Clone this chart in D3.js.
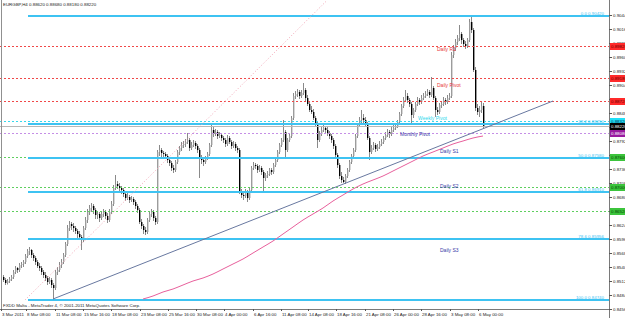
<!DOCTYPE html>
<html>
<head>
<meta charset="utf-8">
<script src="https://cdn.jsdelivr.net/npm/d3@7"></script>
<style>
  body { margin: 0; background: #fff; }
  svg { display: block; font-family: "Liberation Sans", Arial, sans-serif; }
</style>
</head>
<body>
<svg width="625" height="318"></svg>
<script>
const symbol = "EURGBP,H4"
const copyright = "FXDD Malta - MetaTrader 4, \u00a9 2001-2011 MetaQuotes Software Corp."

// H4 bars as [open, high, low, close], in points (0.0001)
const bars = [
  [8520,8524,8510,8514],[8514,8518,8504,8508],[8508,8516,8505,8512],[8512,8520,8508,8516],[8516,8524,8512,8520],
  [8520,8534,8516,8530],[8530,8542,8526,8538],[8538,8540,8528,8534],[8534,8548,8530,8544],[8544,8550,8538,8546],
  [8546,8554,8540,8550],[8550,8566,8546,8562],[8562,8576,8558,8572],[8572,8580,8564,8574],[8574,8576,8558,8564],
  [8564,8568,8552,8558],[8558,8562,8544,8550],[8550,8554,8538,8542],[8542,8548,8532,8538],[8538,8542,8524,8530],
  [8530,8534,8518,8524],[8524,8530,8512,8518],[8518,8522,8504,8510],[8510,8520,8506,8514],[8514,8518,8498,8504],
  [8504,8508,8474,8498],[8498,8534,8494,8530],[8530,8540,8524,8534],[8534,8550,8530,8544],[8544,8556,8538,8550],
  [8550,8568,8546,8564],[8564,8590,8560,8586],[8586,8624,8582,8618],[8618,8632,8612,8626],[8626,8630,8614,8622],
  [8622,8628,8610,8618],[8618,8622,8606,8612],[8612,8616,8598,8606],[8606,8612,8594,8600],[8600,8604,8574,8594],
  [8594,8622,8590,8618],[8618,8640,8614,8634],[8634,8656,8628,8650],[8650,8664,8644,8658],[8658,8668,8650,8662],
  [8662,8666,8646,8654],[8654,8658,8636,8644],[8644,8652,8636,8646],[8646,8650,8630,8638],[8638,8652,8634,8646],
  [8646,8656,8640,8650],[8650,8654,8636,8642],[8642,8648,8628,8634],[8634,8656,8630,8650],[8650,8672,8646,8666],
  [8666,8704,8662,8698],[8698,8724,8694,8706],[8706,8712,8696,8702],[8702,8708,8692,8698],[8698,8702,8686,8694],
  [8694,8698,8680,8686],[8686,8690,8672,8678],[8678,8688,8674,8680],[8680,8684,8668,8674],[8674,8682,8670,8676],
  [8676,8680,8664,8670],[8670,8674,8656,8662],[8662,8666,8648,8654],[8654,8658,8626,8630],[8630,8636,8616,8622],
  [8622,8626,8606,8614],[8614,8620,8604,8610],[8610,8638,8606,8634],[8634,8650,8630,8646],[8646,8656,8640,8650],
  [8650,8654,8632,8638],[8638,8642,8624,8630],[8630,8774,8626,8770],[8770,8784,8762,8774],[8774,8778,8760,8768],
  [8768,8772,8758,8766],[8766,8770,8756,8762],[8762,8766,8748,8754],[8754,8760,8742,8748],[8748,8752,8732,8738],
  [8738,8744,8728,8734],[8734,8754,8730,8750],[8750,8774,8746,8770],[8770,8782,8764,8778],[8778,8790,8772,8784],
  [8784,8792,8778,8786],[8786,8796,8780,8790],[8790,8808,8786,8794],[8794,8798,8772,8778],[8778,8790,8774,8784],
  [8784,8794,8780,8788],[8788,8792,8776,8782],[8782,8786,8768,8774],[8774,8778,8718,8758],[8758,8764,8746,8754],
  [8754,8756,8742,8750],[8750,8762,8746,8758],[8758,8770,8754,8766],[8766,8788,8762,8784],[8784,8824,8780,8814],
  [8814,8820,8800,8806],[8806,8816,8802,8810],[8810,8814,8796,8802],[8802,8810,8798,8804],[8804,8808,8792,8798],
  [8798,8802,8788,8794],[8794,8798,8780,8786],[8786,8804,8782,8798],[8798,8802,8786,8790],[8790,8794,8776,8782],
  [8782,8792,8778,8786],[8786,8790,8772,8778],[8778,8782,8768,8774],[8774,8778,8686,8690],[8690,8696,8678,8684],
  [8684,8690,8674,8682],[8682,8696,8678,8690],[8690,8694,8670,8678],[8678,8698,8674,8694],[8694,8742,8690,8738],
  [8738,8750,8734,8744],[8744,8748,8736,8742],[8742,8746,8728,8734],[8734,8744,8730,8738],[8738,8742,8724,8730],
  [8730,8734,8688,8718],[8718,8728,8712,8724],[8724,8732,8718,8726],[8726,8738,8722,8734],[8734,8738,8724,8730],
  [8730,8748,8726,8744],[8744,8758,8740,8754],[8754,8774,8750,8770],[8770,8788,8766,8784],[8784,8798,8780,8794],
  [8794,8834,8790,8810],[8810,8814,8760,8774],[8774,8798,8770,8794],[8794,8808,8790,8802],[8802,8842,8798,8838],
  [8838,8888,8834,8882],[8882,8892,8876,8886],[8886,8896,8880,8890],[8890,8894,8876,8882],[8882,8894,8878,8888],
  [8888,8908,8884,8894],[8894,8898,8872,8878],[8878,8884,8862,8866],[8866,8872,8850,8854],[8854,8862,8846,8850],
  [8850,8856,8834,8838],[8838,8842,8820,8826],[8826,8830,8778,8794],[8794,8812,8790,8806],[8806,8820,8802,8814],
  [8814,8824,8810,8818],[8818,8822,8806,8814],[8814,8820,8802,8808],[8808,8812,8796,8802],[8802,8806,8788,8794],
  [8794,8798,8776,8782],[8782,8786,8758,8764],[8764,8768,8738,8744],[8744,8748,8716,8722],[8722,8730,8708,8714],
  [8714,8720,8708,8710],[8710,8726,8706,8722],[8722,8738,8718,8734],[8734,8754,8730,8750],[8750,8766,8746,8762],
  [8762,8778,8758,8774],[8774,8806,8770,8802],[8802,8828,8798,8824],[8824,8840,8820,8834],[8834,8854,8828,8838],
  [8838,8846,8828,8834],[8834,8840,8820,8826],[8826,8830,8794,8798],[8798,8802,8754,8770],[8770,8784,8766,8778],
  [8778,8790,8774,8784],[8784,8788,8770,8776],[8776,8786,8772,8780],[8780,8792,8776,8786],[8786,8796,8782,8790],
  [8790,8802,8786,8798],[8798,8810,8794,8804],[8804,8816,8800,8810],[8810,8814,8798,8806],[8806,8820,8802,8814],
  [8814,8824,8810,8818],[8818,8828,8814,8822],[8822,8834,8818,8830],[8830,8850,8826,8846],[8846,8866,8842,8862],
  [8862,8880,8858,8874],[8874,8894,8870,8882],[8882,8888,8868,8874],[8874,8878,8860,8866],[8866,8870,8824,8844],
  [8844,8858,8838,8854],[8854,8870,8850,8866],[8866,8880,8862,8874],[8874,8878,8864,8870],[8870,8884,8866,8878],
  [8878,8888,8874,8882],[8882,8892,8878,8886],[8886,8896,8882,8890],[8890,8894,8878,8884],[8884,8920,8880,8898],
  [8898,8902,8874,8878],[8878,8882,8840,8854],[8854,8860,8844,8850],[8850,8868,8846,8864],[8864,8872,8858,8866],
  [8866,8880,8862,8874],[8874,8878,8864,8870],[8870,8884,8866,8878],[8878,8888,8874,8882],[8882,8970,8878,8964],
  [8964,8984,8958,8978],[8978,8996,8972,8990],[8990,9004,8984,8998],[8998,9024,8992,9006],[9006,9010,8986,8994],
  [8994,8998,8980,8986],[8986,8992,8976,8982],[8982,8998,8978,8994],[8994,9036,8990,9030],[9030,9042,9008,9014],
  [9014,9018,8930,8934],[8934,8940,8852,8858],[8858,8866,8844,8850],[8850,8862,8840,8854],[8854,8870,8848,8862],
  [8862,8868,8818,8822]
]

// moving average, one reading every 5 bars
const maBars = [70,75,80,85,90,95,100,105,110,115,120,125,130,135,140,145,150,155,160,165,170,175,180,185,190,195,200,205,210,215,220,225,230,235,240]
const maValues = [8476,8482,8490,8496,8504,8512,8518,8526,8536,8546,8556,8568,8580,8592,8606,8620,8634,8646,8658,8672,8684,8696,8706,8714,8722,8732,8742,8752,8762,8770,8778,8786,8792,8798,8802]

// fibonacci retracement
const fibHigh = 0.9042
const fibLow = 0.8474
const fibLevels = [0, 38.2, 50, 61.8, 78.6, 100]
const fibStartBar = 12.5

// pivot lines
const pivotPrices = [0.8982, 0.8918, 0.8872, 0.8832, 0.8808, 0.8760, 0.8700, 0.8652]
const pivotKinds = ["daily", "daily", "daily", "weekly", "monthly", "support", "support", "support"]
const pivotLabels = ["Daily R1", "Daily Pivot", "Weekly Pivot", "Monthly Pivot", "Daily S1", "Daily S2", "Daily S3"]
const pivotLabelKinds = ["daily", "daily", "weekly", "monthly", "support", "support", "support"]
const pivotLabelPrices = [0.8976, 0.8904, 0.8838, 0.8806, 0.8772, 0.8702, 0.8574]
const pivotLabelBars = [217, 217, 207.5, 198.5, 218.5, 218.5, 218.5]

// trend lines (bar, price)
const trendLine = [[25, 0.8476], [275, 0.8872]]
const channelRay = [[11, 0.8474], [137, 0.8974]]

// axes
const priceTicks = [0.9044, 0.9016, 0.8988, 0.8960, 0.8932, 0.8904, 0.8876, 0.8848, 0.8820, 0.8792, 0.8764,
  0.8736, 0.8708, 0.8680, 0.8652, 0.8624, 0.8596, 0.8568, 0.8540, 0.8512, 0.8484, 0.8456]
const timeLabels = ["3 Mar 2011", "8 Mar 08:00", "11 Mar 08:00", "15 Mar 16:00", "18 Mar 08:00", "23 Mar 08:00",
  "25 Mar 16:00", "30 Mar 08:00", "4 Apr 00:00", "6 Apr 16:00", "11 Apr 08:00", "14 Apr 08:00", "18 Apr 16:00",
  "21 Apr 08:00", "26 Apr 00:00", "28 Apr 16:00", "3 May 08:00", "6 May 00:00"]
const timeLabelBars = [0, 12.5, 27, 41, 55, 69.5, 83.5, 97.5, 111.5, 126, 140, 153.5, 167.5, 182, 196, 210, 224.5, 238.5]

const pt = v => v / 10000
const kindColor = { daily: "#f04848", weekly: "#38d8ec", monthly: "#c58ee6", support: "#5fcf5f" }
const labelColor = { daily: "#e83838", weekly: "#30d8ec", monthly: "#3a3aa8", support: "#3a3aa8" }
const boxFill = { daily: "#ff2a2a", weekly: "#20e0f8", monthly: "#9a1aa0", support: "#3cc43c" }
const boxText = { daily: "#600", weekly: "#035", monthly: "#fff", support: "#040" }
const fibColor = "#3ec3f2"
const small = 4.4

const svg = d3.select("svg")
const plotRight = 609
const plotBottom = 309

svg.append("rect").attr("width", 625).attr("height", 318).attr("fill", "#fff")

svg.append("defs").append("clipPath").attr("id", "plot")
  .append("rect").attr("x", 0).attr("y", 0).attr("width", plotRight).attr("height", plotBottom)

const x = d3.scaleLinear().domain([0, 240]).range([3, 483])
const y = d3.scaleLinear().domain([fibLow, fibHigh]).range([300, 16])

const plot = svg.append("g").attr("clip-path", "url(#plot)")

// candles
const candles = plot.selectAll("g.bar")
  .data(bars)
  .enter()
  .append("g")
  .attr("class", "bar")

candles.append("line")
  .attr("x1", (d, i) => x(i) + 0.5)
  .attr("x2", (d, i) => x(i) + 0.5)
  .attr("y1", d => y(pt(d[1])))
  .attr("y2", d => y(pt(d[2])))
  .attr("stroke", "#8a8a8a")
  .attr("stroke-width", 1)

candles.append("rect")
  .attr("x", (d, i) => x(i))
  .attr("width", 1.4)
  .attr("y", d => y(pt(Math.max(d[0], d[3]))))
  .attr("height", d => Math.max(1, Math.abs(y(pt(d[0])) - y(pt(d[3])))))
  .attr("fill", d => d[3] >= d[0] ? "#9c9c9c" : "#000")

// pivot dotted lines
plot.selectAll("line.pivot")
  .data(pivotPrices)
  .enter()
  .append("line")
  .attr("class", "pivot")
  .attr("x1", 0)
  .attr("x2", plotRight)
  .attr("y1", d => Math.round(y(d)) + 0.5)
  .attr("y2", d => Math.round(y(d)) + 0.5)
  .attr("stroke", (d, i) => kindColor[pivotKinds[i]])
  .attr("stroke-dasharray", "2,2")

// bid line
const last = bars[bars.length - 1]
plot.append("line")
  .attr("x1", 0)
  .attr("x2", plotRight)
  .attr("y1", Math.round(y(pt(last[3]))) + 0.5)
  .attr("y2", Math.round(y(pt(last[3]))) + 0.5)
  .attr("stroke", "#b8b8b8")

// fibonacci levels
const fibPrice = lv => fibHigh - lv / 100 * (fibHigh - fibLow)
plot.selectAll("line.fib")
  .data(fibLevels)
  .enter()
  .append("line")
  .attr("class", "fib")
  .attr("x1", x(fibStartBar))
  .attr("x2", plotRight)
  .attr("y1", d => Math.round(y(fibPrice(d))))
  .attr("y2", d => Math.round(y(fibPrice(d))))
  .attr("stroke", fibColor)
  .attr("stroke-width", 2)

plot.selectAll("text.fib")
  .data(fibLevels)
  .enter()
  .append("text")
  .attr("class", "fib")
  .attr("x", 604)
  .attr("y", d => Math.round(y(fibPrice(d))) - 1.5)
  .attr("text-anchor", "end")
  .attr("font-size", small)
  .attr("fill", fibColor)
  .text(d => d.toFixed(1) + "  " + fibPrice(d).toFixed(5))

// moving average
const maLine = d3.line()
  .x(d => x(d[0]))
  .y(d => y(pt(d[1])))
  .curve(d3.curveMonotoneX)

plot.append("path")
  .attr("d", maLine(d3.zip(maBars, maValues)))
  .attr("fill", "none")
  .attr("stroke", "#e8609c")
  .attr("stroke-width", 1)

// trend line
plot.append("line")
  .attr("x1", x(trendLine[0][0]))
  .attr("y1", y(trendLine[0][1]))
  .attr("x2", x(trendLine[1][0]))
  .attr("y2", y(trendLine[1][1]))
  .attr("stroke", "#6878a0")
  .attr("stroke-width", 1)

// ray, extended up to the top of the window
const slope = (channelRay[1][1] - channelRay[0][1]) / (channelRay[1][0] - channelRay[0][0])
const rayEndPrice = y.invert(0)
const rayEndBar = channelRay[0][0] + (rayEndPrice - channelRay[0][1]) / slope
plot.append("line")
  .attr("x1", x(channelRay[0][0]))
  .attr("y1", y(channelRay[0][1]))
  .attr("x2", x(rayEndBar))
  .attr("y2", 0)
  .attr("stroke", "#f2a6b6")
  .attr("stroke-dasharray", "1,2")

// pivot labels
plot.selectAll("text.plabel")
  .data(pivotLabels)
  .enter()
  .append("text")
  .attr("class", "plabel")
  .attr("x", (d, i) => x(pivotLabelBars[i]))
  .attr("y", (d, i) => y(pivotLabelPrices[i]) + 2)
  .attr("font-size", 5)
  .attr("fill", (d, i) => labelColor[pivotLabelKinds[i]])
  .text(d => d)

// frame
svg.append("line").attr("x1", 1.5).attr("x2", 1.5).attr("y1", 0).attr("y2", plotBottom).attr("stroke", "#909090")
svg.append("line").attr("x1", plotRight + 0.5).attr("x2", plotRight + 0.5).attr("y1", 0).attr("y2", 318).attr("stroke", "#7a7a7a")
svg.append("line").attr("x1", 0).attr("x2", plotRight).attr("y1", plotBottom + 0.5).attr("y2", plotBottom + 0.5).attr("stroke", "#7a7a7a")

// price axis
const axis = svg.append("g")
axis.selectAll("line")
  .data(priceTicks)
  .enter()
  .append("line")
  .attr("x1", plotRight)
  .attr("x2", plotRight + 3)
  .attr("y1", d => Math.round(y(d)) + 0.5)
  .attr("y2", d => Math.round(y(d)) + 0.5)
  .attr("stroke", "#555")

axis.selectAll("text")
  .data(priceTicks)
  .enter()
  .append("text")
  .attr("x", plotRight + 4)
  .attr("y", d => y(d) + 1.6)
  .attr("font-size", small)
  .attr("fill", "#222")
  .text(d => d.toFixed(5))

// price boxes
const boxes = pivotPrices.map((p, i) => ({ p, fill: boxFill[pivotKinds[i]], ink: boxText[pivotKinds[i]] }))
boxes.push({ p: pt(last[3]), fill: "#000", ink: "#fff" })

const boxG = svg.selectAll("g.box")
  .data(boxes)
  .enter()
  .append("g")
  .attr("class", "box")

boxG.append("rect")
  .attr("x", plotRight + 1)
  .attr("y", d => Math.round(y(d.p)) - 3)
  .attr("width", 16)
  .attr("height", 7)
  .attr("fill", d => d.fill)

boxG.append("text")
  .attr("x", plotRight + 2)
  .attr("y", d => Math.round(y(d.p)) + 2)
  .attr("font-size", small)
  .attr("fill", d => d.ink)
  .text(d => d.p.toFixed(5))

// time axis
const tAxis = svg.append("g")
tAxis.selectAll("line")
  .data(timeLabelBars)
  .enter()
  .append("line")
  .attr("x1", d => Math.round(x(d)) - 1.5)
  .attr("x2", d => Math.round(x(d)) - 1.5)
  .attr("y1", plotBottom)
  .attr("y2", plotBottom + 2)
  .attr("stroke", "#555")

tAxis.selectAll("text")
  .data(timeLabels)
  .enter()
  .append("text")
  .attr("x", (d, i) => x(timeLabelBars[i]) - 1)
  .attr("y", 315.5)
  .attr("font-size", small)
  .attr("fill", "#222")
  .text(d => d)

// header and footer
const fmt = v => pt(v).toFixed(5)
svg.append("text")
  .attr("x", 3)
  .attr("y", 6)
  .attr("font-size", small)
  .attr("fill", "#222")
  .text(symbol + "  " + last.map(fmt).join(" "))

svg.append("text")
  .attr("x", 3)
  .attr("y", 307)
  .attr("font-size", small)
  .attr("fill", "#222")
  .text(copyright)
</script>
</body>
</html>
